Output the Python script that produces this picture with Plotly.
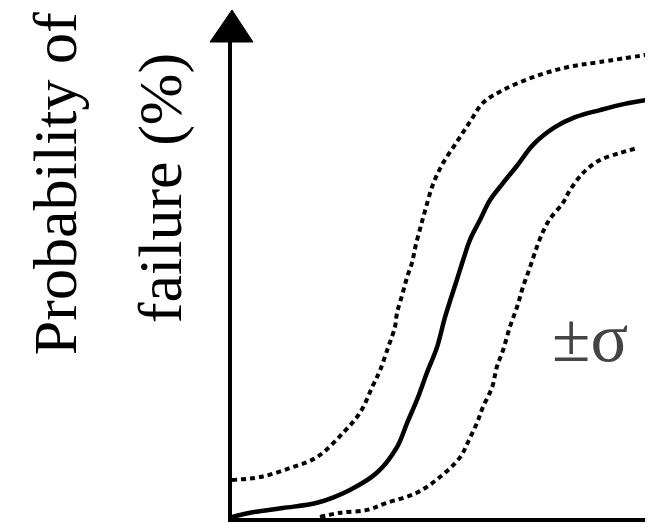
import plotly.graph_objects as go

# curves (x: arbitrary stress units 0-100, y: probability of failure %)
mean_x = [0, 4.3, 12.1, 20.2, 28.0, 34.4, 39.2, 41.6, 44.2, 46.3, 48.7, 50.6,
          53.4, 54.9, 56.5, 58.9, 61.3, 64.4, 67.7, 71.5, 76.7, 81.5, 87.4, 93.3, 100]
mean_y = [0.2, 1.1, 2.1, 3.2, 5.9, 9.5, 14.9, 20.0, 25.4, 30.5, 35.9, 42.2,
          50.0, 54.2, 58.4, 62.6, 66.8, 70.4, 74.0, 78.4, 82.1, 84.2, 85.7, 87.0, 88.0]

upper_x = [0, 6.7, 13.8, 20.2, 26.4, 30.4, 33.5, 35.2, 37.1, 38.7, 39.2, 40.4,
           41.6, 42.8, 43.7, 44.9, 46.0, 47.7, 49.9, 53.4, 56.5, 59.6, 64.4, 71.5,
           79.6, 87.4, 100]
upper_y = [8.0, 8.6, 10.5, 12.8, 17.9, 22.1, 27.9, 31.1, 35.9, 40.1, 43.1, 46.8,
           50.6, 53.8, 57.5, 61.5, 65.0, 70.0, 74.2, 79.0, 83.2, 87.2, 89.9, 92.6,
           94.7, 95.8, 97.5]

lower_x = [20.9, 25.7, 32.1, 36.8, 43.9, 49.4, 54.2, 56.3, 58.2, 59.6, 61.8, 62.9,
           64.4, 66.0, 67.7, 69.1, 70.8, 72.4, 73.9, 75.5, 78.6, 80.3, 83.4, 87.4,
           92.2, 96.2]
lower_y = [0.2, 1.1, 1.7, 3.2, 5.3, 8.6, 12.8, 16.4, 20.0, 23.3, 27.5, 31.7,
           35.3, 40.1, 44.3, 48.5, 52.7, 56.9, 60.2, 62.8, 66.2, 68.9, 72.5, 75.2,
           76.7, 77.7]

y_label_1 = 'Probability of'
y_label_2 = 'failure (%)'
band_label = '±σ'

SERIF = 'Liberation Serif, Times New Roman, serif'

fig = go.Figure()

fig.add_trace(go.Scatter(
    x=upper_x, y=upper_y, mode='lines', line_shape='spline',
    line={'color': '#000000', 'width': 4, 'dash': '5px,4px'},
))
fig.add_trace(go.Scatter(
    x=mean_x, y=mean_y, mode='lines', line_shape='spline',
    line={'color': '#000000', 'width': 4.5},
))
fig.add_trace(go.Scatter(
    x=lower_x, y=lower_y, mode='lines', line_shape='spline',
    line={'color': '#000000', 'width': 4, 'dash': '5px,4px'},
))

# arrow head on top of the y axis
fig.add_shape(
    type='path', xref='paper', yref='paper',
    xsizemode='pixel', ysizemode='pixel', xanchor=0, yanchor=1,
    path='M 0,32 L -22,0 L 21,0 Z',
    fillcolor='#000000', line={'color': '#000000', 'width': 1},
)

fig.add_annotation(
    text=y_label_1, xref='paper', yref='paper', x=-0.42, y=0.7017,
    xanchor='center', yanchor='middle', textangle=-90, showarrow=False,
    font={'family': SERIF, 'size': 62, 'color': '#000000'},
)
fig.add_annotation(
    text=y_label_2, xref='paper', yref='paper', x=-0.171, y=0.693,
    xanchor='center', yanchor='middle', textangle=-90, showarrow=False,
    font={'family': SERIF, 'size': 62, 'color': '#000000'},
)
fig.add_annotation(
    text=band_label, xref='paper', yref='paper', x=0.85, y=0.38,
    xanchor='center', yanchor='middle', showarrow=False,
    font={'family': SERIF, 'size': 70, 'color': '#444444'},
)

# the page body adds an 8px offset, so the figure is 8px smaller each way
fig.update_layout(
    width=645, height=516,
    margin={'l': 224, 'r': 0, 't': 34, 'b': 6},
    paper_bgcolor='#ffffff', plot_bgcolor='#ffffff',
    showlegend=False,
    xaxis={
        'range': [0, 100], 'showgrid': False, 'zeroline': False,
        'showticklabels': False, 'ticks': '',
        'showline': True, 'linecolor': '#000000', 'linewidth': 4,
    },
    yaxis={
        'range': [0, 100], 'showgrid': False, 'zeroline': False,
        'showticklabels': False, 'ticks': '',
        'showline': True, 'linecolor': '#000000', 'linewidth': 4,
    },
)

fig.write_html('out.html')
